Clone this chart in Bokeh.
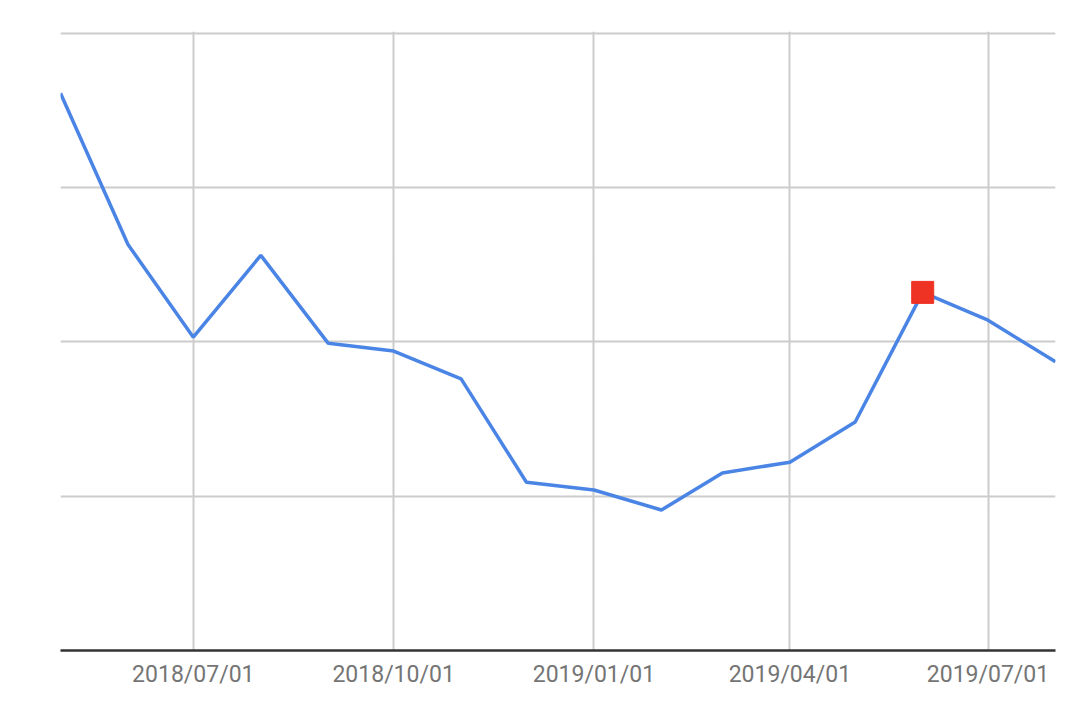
import pandas as pd
import bokeh.plotting as bkh
from bokeh.models import FixedTicker, DatetimeTickFormatter, Range1d
from bokeh.embed import file_html
from bokeh.resources import INLINE

# monthly series (y axis has no labels, values read in grid units)
months = ['2018-05-01', '2018-06-01', '2018-07-01', '2018-08-01', '2018-09-01', '2018-10-01',
          '2018-11-01', '2018-12-01', '2019-01-01', '2019-02-01', '2019-03-01', '2019-04-01',
          '2019-05-01', '2019-06-01', '2019-07-01', '2019-08-01']
values = [3.61, 2.63, 2.03, 2.56, 1.99, 1.94, 1.76, 1.09, 1.04, 0.91, 1.15, 1.22, 1.48, 2.32, 2.14, 1.87]

highlight_month = '2019-06-01'
tick_dates = ['2018-07-01', '2018-10-01', '2019-01-01', '2019-04-01', '2019-07-01']
y_grid = [0, 1, 2, 3, 4]

df = pd.DataFrame({'date': pd.to_datetime(months), 'value': values})
hl = df[df['date'] == pd.Timestamp(highlight_month)]

p = bkh.figure(x_axis_type='datetime', width=1072, height=690,
               output_backend="svg", toolbar_location=None,
               min_border_left=60, min_border_right=17, min_border_top=31, min_border_bottom=40)
p.x_range = Range1d(df['date'].min(), df['date'].max())
p.y_range = Range1d(0, 4.01)  # small headroom so the top grid line shows
p.outline_line_color = None
p.background_fill_color = 'white'
p.border_fill_color = 'white'

p.line(x='date', y='value', source=df, line_color='#4a85e6', line_width=3.5)
p.scatter(x='date', y='value', source=hl, marker='square', size=22,
          fill_color='#ee3224', line_color='#ee3224')

ms = [pd.Timestamp(d).value // 10**6 for d in tick_dates]
p.xaxis.ticker = FixedTicker(ticks=ms)
fmt = '%Y/%m/%d'
p.xaxis.formatter = DatetimeTickFormatter(days=fmt, months=fmt, years=fmt, hours=fmt)
p.xaxis.major_label_text_font = 'Roboto'
p.xaxis.major_label_text_font_size = '23px'
p.xaxis.major_label_text_color = '#757575'
p.xaxis.major_tick_line_color = None
p.xaxis.minor_tick_line_color = None
p.xaxis.axis_line_color = '#333333'
p.xaxis.axis_line_width = 2.5
p.xaxis.major_label_standoff = 4

p.yaxis.visible = False
p.ygrid.ticker = FixedTicker(ticks=y_grid)
p.xgrid.ticker = FixedTicker(ticks=ms)
p.grid.grid_line_color = '#cccccc'
p.grid.grid_line_width = 2

open("out.html", "w").write(file_html(p, INLINE))
